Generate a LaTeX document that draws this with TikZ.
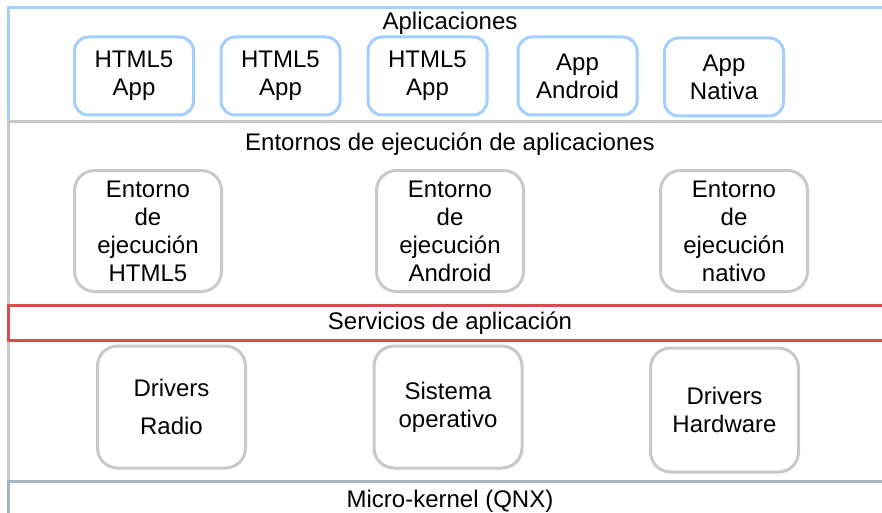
\documentclass[tikz,border=0pt]{standalone}
\usepackage{fontspec}
\setmainfont{Liberation Sans}
\usepackage{tikz}

\definecolor{appblue}{HTML}{A2CFFC}
\definecolor{boxgray}{HTML}{C9C9C9}
\definecolor{servred}{HTML}{D64F4C}
\definecolor{kernelgray}{HTML}{A5B6C0}

\begin{document}
\begin{tikzpicture}[x=1pt,y=-1pt,
        font=\fontsize{24}{28}\selectfont,
        layer/.style={line width=3pt},
        appbox/.style={draw=appblue, line width=3pt, rounded corners=14pt, fill=white,
            align=center, minimum width=119pt, minimum height=78pt, inner sep=0pt},
        envbox/.style={draw=boxgray, line width=3pt, rounded corners=20pt, fill=white,
            align=center, minimum width=147pt, minimum height=121pt, inner sep=0pt},
        title/.style={anchor=base, inner sep=0pt}]

            \clip (0,0) rectangle (882,513);
            \fill[white] (0,0) rectangle (882,513);

            % layers
            \draw[layer, draw=appblue] (8,8) rectangle (900,122);
            \draw[layer, draw=boxgray] (8,122) rectangle (900,305);
            \draw[layer, draw=boxgray] (8,340) rectangle (900,481);
            \draw[layer, draw=kernelgray] (8,481) rectangle (900,530);
            \draw[layer, draw=servred] (8,305) rectangle (900,340);

            \node (apps) [title] at (450,30) {Aplicaciones};
            \node (envs) [title] at (450,150) {Entornos de ejecución de aplicaciones};
            \node (servs) [title] at (450,329) {Servicios de aplicación};
            \node (kernel) [title] at (450,507) {Micro-kernel (QNX)};

            % aplicaciones
            \node (htmlA) [appbox] at (134,76) {HTML5\\App};
            \node (htmlB) [appbox] at (280.5,76) {HTML5\\App};
            \node (htmlC) [appbox] at (427.5,76) {HTML5\\App};
            \node (android) [appbox] at (577.5,76) {App\\Android};
            \node (nativa) [appbox] at (724,77) {App\\Nativa};

            % entornos
            \node (envhtml) [envbox] at (148,231) {Entorno\\de\\ejecución\\HTML5};
            \node (envandroid) [envbox] at (450,231) {Entorno\\de\\ejecución\\Android};
            \node (envnativo) [envbox] at (734,231) {Entorno\\de\\ejecución\\nativo};

            % servicios
            \node (radio) [envbox, minimum width=148pt, minimum height=122pt] at (171.5,407) {Drivers\\[10pt]Radio};
            \node (so) [envbox, minimum width=148pt, minimum height=122pt] at (448,407) {Sistema\\operativo};
            \node (hw) [envbox, minimum width=148pt, minimum height=124pt] at (724.5,410) {Drivers\\Hardware};

        \end{tikzpicture}
\end{document}
